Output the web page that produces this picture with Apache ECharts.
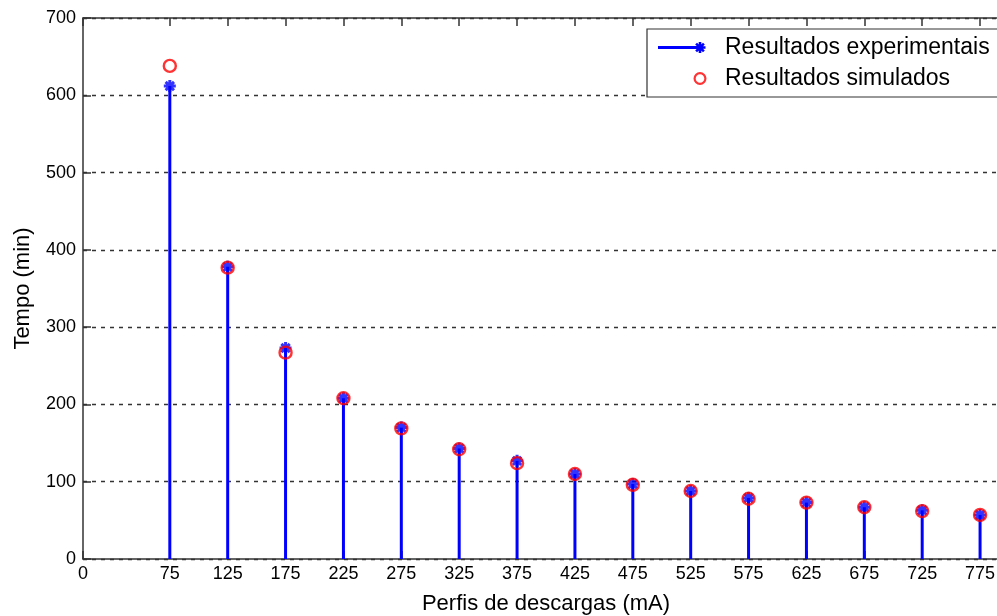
<!DOCTYPE html>
<html>
<head>
<meta charset="utf-8">
<script src="https://cdn.jsdelivr.net/npm/echarts@6/dist/echarts.min.js"></script>
<style>
  html, body { margin: 0; padding: 0; background: #fff; }
  #chart { width: 997px; height: 616px; }
</style>
</head>
<body>
<div id="chart"></div>
<script>
// perfis de descarga (mA)
const correntes = [75, 125, 175, 225, 275, 325, 375, 425, 475, 525, 575, 625, 675, 725, 775]
// tempo (min)
const experimentais = [612, 378, 273, 208, 170, 143, 127, 110, 97, 88, 79, 73, 67, 63, 57]
const simulados = [638, 377, 267, 208, 169, 142, 124, 110, 96, 88, 78, 73, 67, 62, 57]
const xTicks = [0, 75, 125, 175, 225, 275, 325, 375, 425, 475, 525, 575, 625, 675, 725, 775]

const FONT = 'Liberation Sans'
const AZUL = '#0000ff'
const VERMELHO = '#ff0000'
const EIXO = '#333'

// asterisco do matlab
const STAR = 'path://M7.5 0 L12.5 0 L12.5 20 L7.5 20 Z M0 7.5 L20 7.5 L20 12.5 L0 12.5 Z ' +
  'M4.8 1.3 L18.7 15.2 L15.2 18.7 L1.3 4.8 Z M18.7 4.8 L4.8 18.7 L1.3 15.2 L15.2 1.3 Z'
// icones da legenda (linha + asterisco, circulo vazio)
const ICON_EXP = 'path://M0 0 L0 0.01 L0 0 Z M62 14 L62 13.99 L62 14 Z ' +
  'M0 5.5 L42 5.5 L42 8.5 L0 8.5 Z ' +
  'M40.7 1.5 L43.3 1.5 L43.3 12.5 L40.7 12.5 Z M36.5 5.7 L47.5 5.7 L47.5 8.3 L36.5 8.3 Z ' +
  'M39 2.2 L46.8 10 L45 11.8 L37.2 4 Z ' +
  'M46.8 4 L39 11.8 L37.2 10 L45 2.2 Z'
const ICON_SIM = 'path://M0 0 L0 0.01 L0 0 Z M62 14 L62 13.99 L62 14 Z ' +
  'M35.5 7 A6.5 6.5 0 1 1 48.5 7 A6.5 6.5 0 1 1 35.5 7 Z ' +
  'M37.7 7 A4.3 4.3 0 1 0 46.3 7 A4.3 4.3 0 1 0 37.7 7 Z'

const chart = echarts.init(document.getElementById('chart'))

const xBase = {
  type: 'value',
  min: 0,
  max: 800,
  axisLine: { show: true, lineStyle: { color: EIXO, width: 1.5 } },
  axisTick: { show: true, inside: true, length: 8, customValues: xTicks, lineStyle: { color: EIXO, width: 1.5 } },
  splitLine: { show: false }
}

chart.setOption({
  animation: false,
  backgroundColor: '#fff',
  grid: { left: 83, right: -12, top: 18, bottom: 57, outerBoundsMode: 'none', containLabel: false },
  legend: {
    orient: 'vertical',
    left: 647,
    top: 29,
    padding: [7, 20, 7, 11],
    itemGap: 8,
    itemWidth: 62,
    itemHeight: 14,
    backgroundColor: '#fff',
    borderColor: EIXO,
    borderWidth: 1.2,
    borderRadius: 0,
    selectedMode: false,
    textStyle: { fontFamily: FONT, fontSize: 23, lineHeight: 23, color: '#000' },
    data: [
      { name: 'Resultados experimentais', icon: ICON_EXP, itemStyle: { color: AZUL } },
      { name: 'Resultados simulados', icon: ICON_SIM, itemStyle: { color: VERMELHO, borderWidth: 0 } }
    ]
  },
  xAxis: [
    Object.assign({}, xBase, {
      position: 'bottom',
      name: 'Perfis de descargas (mA)',
      nameLocation: 'middle',
      nameGap: 34,
      nameTextStyle: { fontFamily: FONT, fontSize: 22, lineHeight: 22, color: '#000' },
      axisLabel: {
        customValues: xTicks,
        fontFamily: FONT, fontSize: 18, color: '#000', margin: 6
      }
    }),
    Object.assign({}, xBase, {
      position: 'top',
      axisLabel: { show: false }
    })
  ],
  yAxis: {
    type: 'value',
    min: 0,
    max: 700,
    interval: 100,
    name: 'Tempo (min)',
    nameLocation: 'middle',
    nameGap: 49,
    nameTextStyle: { fontFamily: FONT, fontSize: 22, lineHeight: 22, color: '#000' },
    axisLine: { show: true, lineStyle: { color: EIXO, width: 1.5 } },
    axisTick: { show: true, inside: true, length: 8, lineStyle: { color: EIXO, width: 1.5 } },
    axisLabel: { fontFamily: FONT, fontSize: 18, color: '#000', margin: 7 },
    splitLine: { show: true, lineStyle: { color: EIXO, width: 1.3, type: [4, 5] } }
  },
  series: [
    {
      name: 'Resultados experimentais',
      type: 'bar',
      barWidth: 3,
      itemStyle: { color: AZUL },
      data: correntes.map((x, i) => [x, experimentais[i]]),
      z: 2
    },
    {
      name: 'Resultados experimentais',
      type: 'scatter',
      symbol: STAR,
      symbolSize: 12,
      itemStyle: { color: AZUL },
      data: correntes.map((x, i) => [x, experimentais[i]]),
      z: 3
    },
    {
      name: 'Resultados simulados',
      type: 'scatter',
      symbol: 'circle',
      symbolSize: 12,
      itemStyle: { color: 'rgba(0,0,0,0)', borderColor: VERMELHO, borderWidth: 2.4 },
      data: correntes.map((x, i) => [x, simulados[i]]),
      z: 4
    }
  ]
})
</script>
</body>
</html>
